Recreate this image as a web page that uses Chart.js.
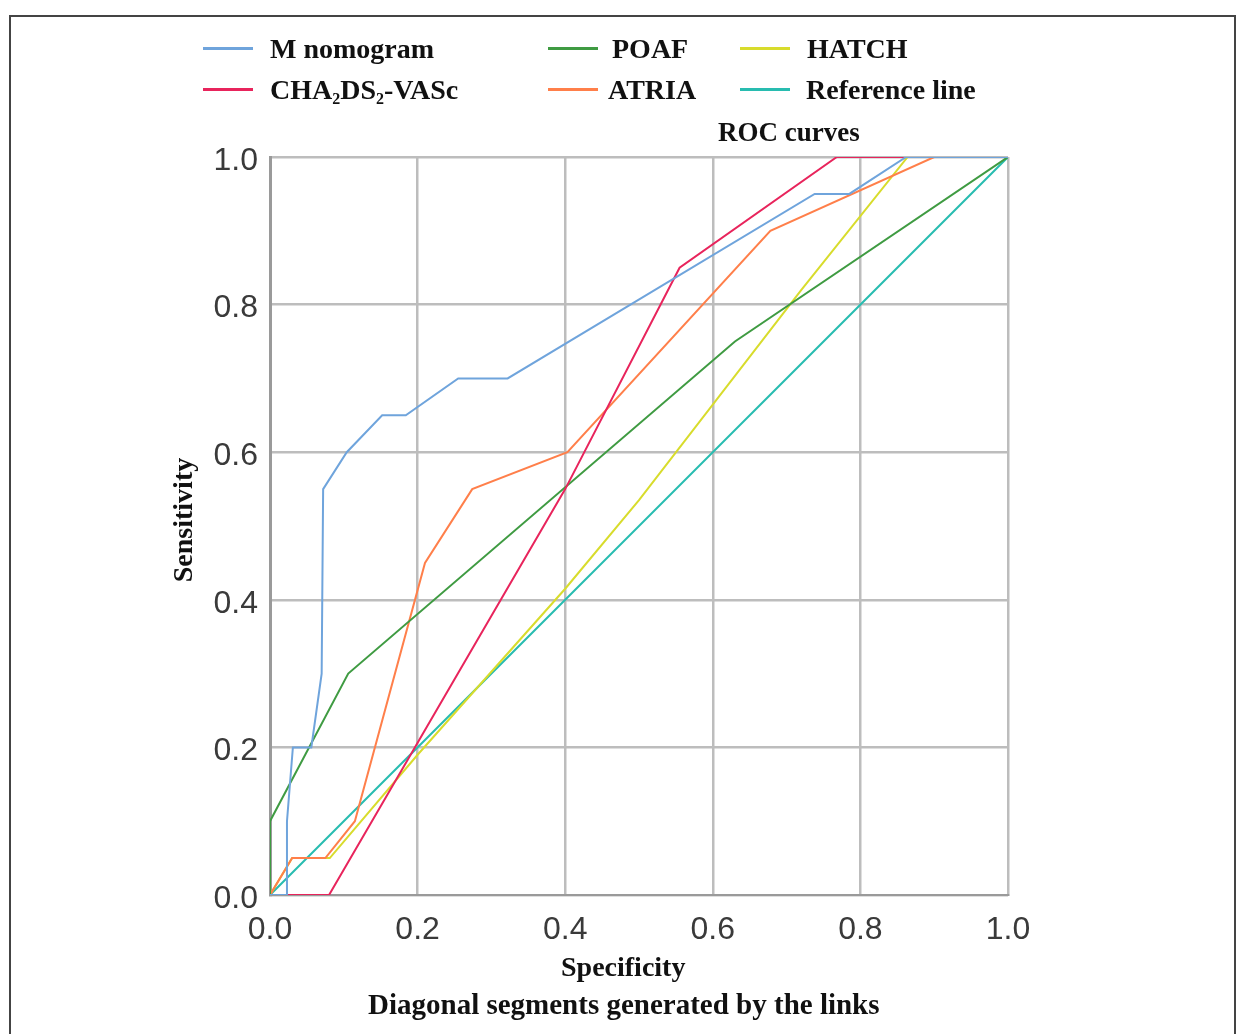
<!DOCTYPE html>
<html>
<head>
<meta charset="utf-8">
<script src="https://cdn.jsdelivr.net/npm/chart.js@4.4.0/dist/chart.umd.min.js"></script>
<style>
  body { margin: 0; background: #fff; }
  .wrap { position: relative; width: 1245px; height: 1034px; overflow: hidden; }
  .frame { position: absolute; left: 9px; top: 15px; width: 1227px; height: 1040px;
    border: 2px solid #444; box-sizing: border-box; }
  canvas { position: absolute; left: 0; top: 0; }
  .txt { position: absolute; font-family: "Liberation Serif", "DejaVu Serif", serif;
    font-weight: bold; font-size: 28px; color: #111; white-space: nowrap; line-height: 1; }
  .sw { position: absolute; height: 3px; width: 50px; }
  sub { font-size: 16px; vertical-align: -5px; line-height: 0; }
</style>
</head>
<body>
<div class="wrap">
  <div class="frame"></div>
  <canvas id="roc" width="1245" height="1034"></canvas>
  <div id="legend"></div>
  <div class="txt" style="left:718px; top:119px; font-size:27px;">ROC curves</div>
  <div class="txt" style="left:561px; top:953px; font-size:28px;">Specificity</div>
  <div class="txt" style="left:368px; top:990px; font-size:29px;">Diagonal segments generated by the links</div>
  <div class="txt" style="left:118px; top:506px; width:130px; text-align:center; transform: rotate(-90deg);">Sensitivity</div>
</div>
<script>
// tick values
const tickValues = [0, 0.2, 0.4, 0.6, 0.8, 1.0];

// curves: x = value on the Specificity axis, y = sensitivity
const nomogramX = [0, 0.023, 0.023, 0.031, 0.056, 0.07, 0.072, 0.104, 0.152, 0.184, 0.255, 0.322, 0.738, 0.785, 0.862, 1];
const nomogramY = [0, 0, 0.10, 0.20, 0.20, 0.30, 0.55, 0.60, 0.65, 0.65, 0.70, 0.70, 0.95, 0.95, 1.0, 1.0];

const chaX = [0, 0.08, 0.40, 0.555, 0.768, 1];
const chaY = [0, 0, 0.55, 0.85, 1.0, 1.0];

const poafX = [0, 0, 0.106, 0.63, 1];
const poafY = [0, 0.10, 0.30, 0.75, 1.0];

const atriaX = [0, 0.03, 0.075, 0.115, 0.21, 0.274, 0.403, 0.678, 0.90, 1];
const atriaY = [0, 0.05, 0.05, 0.10, 0.45, 0.55, 0.60, 0.90, 1.0, 1.0];

const hatchX = [0, 0.03, 0.081, 0.20, 0.40, 0.50, 0.72, 0.864, 1];
const hatchY = [0, 0.05, 0.05, 0.19, 0.415, 0.535, 0.82, 1.0, 1.0];

const refX = [0, 1];
const refY = [0, 1];

const seriesNames = ["M nomogram", "CHA<sub>2</sub>DS<sub>2</sub>-VASc", "POAF", "ATRIA", "HATCH", "Reference line"];
const seriesColors = ["#6fa4dc", "#e8245c", "#3f9b42", "#ff7f4a", "#d8dc2c", "#28bcb0"];

function pts(xs, ys) {
  return xs.map((x, i) => ({ x: x, y: ys[i] }));
}

const allSeries = [
  pts(nomogramX, nomogramY),
  pts(chaX, chaY),
  pts(poafX, poafY),
  pts(atriaX, atriaY),
  pts(hatchX, hatchY),
  pts(refX, refY)
];

// legend in three columns, two rows
const legendPos = [
  { sw: 203, tx: 270, y: 48 },
  { sw: 203, tx: 270, y: 89 },
  { sw: 548, tx: 612, y: 48 },
  { sw: 548, tx: 608, y: 89 },
  { sw: 740, tx: 807, y: 48 },
  { sw: 740, tx: 806, y: 89 }
];
const legend = document.getElementById("legend");
seriesNames.forEach((name, i) => {
  const p = legendPos[i];
  const sw = document.createElement("div");
  sw.className = "sw";
  sw.style.left = p.sw + "px";
  sw.style.top = (p.y - 1) + "px";
  sw.style.background = seriesColors[i];
  legend.appendChild(sw);
  const t = document.createElement("div");
  t.className = "txt";
  t.style.left = p.tx + "px";
  t.style.top = (p.y - 13) + "px";
  t.innerHTML = name;
  legend.appendChild(t);
});

new Chart(document.getElementById("roc"), {
  type: "scatter",
  data: {
    datasets: allSeries.map((d, i) => ({
      label: seriesNames[i],
      data: d,
      showLine: true,
      borderColor: seriesColors[i],
      backgroundColor: seriesColors[i],
      borderWidth: 2,
      pointRadius: 0,
      tension: 0
    }))
  },
  options: {
    responsive: false,
    animation: false,
    layout: { padding: { left: 170, right: 237, top: 157, bottom: 79 } },
    plugins: { legend: { display: false }, tooltip: { enabled: false } },
    scales: {
      x: {
        type: "linear", min: 0, max: 1,
        afterFit: (s) => { s.height = 60; },
        afterBuildTicks: (s) => { s.ticks = tickValues.map(v => ({ value: v })); },
        grid: { color: "#bdbdbd", lineWidth: 2.5, drawTicks: false },
        border: { color: "#9a9a9a", width: 2 },
        ticks: { padding: 16, color: "#3a3a3a", font: { family: "Liberation Sans", size: 32 },
          callback: (v) => v.toFixed(1) }
      },
      y: {
        type: "linear", min: 0, max: 1,
        afterFit: (s) => { s.width = 100; },
        afterBuildTicks: (s) => { s.ticks = tickValues.map(v => ({ value: v })); },
        grid: { color: "#bdbdbd", lineWidth: 2.5, drawTicks: false },
        border: { color: "#9a9a9a", width: 3 },
        ticks: { padding: 12, labelOffset: 4, color: "#3a3a3a", font: { family: "Liberation Sans", size: 32 },
          callback: (v) => v.toFixed(1) }
      }
    }
  }
});
</script>
</body>
</html>
